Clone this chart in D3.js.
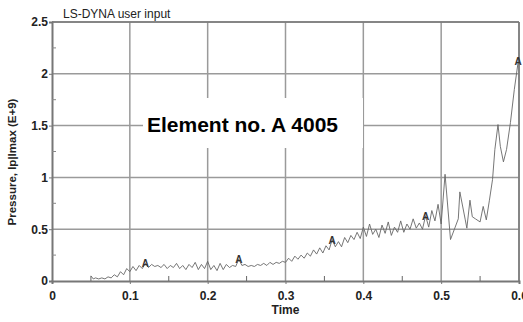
<!DOCTYPE html>
<html>
<head>
<meta charset="utf-8">
<script src="https://cdn.jsdelivr.net/npm/d3@7"></script>
<style>
  body { margin: 0; background: #fff; }
  text { font-family: "Liberation Sans", Arial, sans-serif; }
</style>
</head>
<body>
<svg width="523" height="322"></svg>
<script>
// data
var times = [0.050,0.053,0.056,0.060,0.064,0.068,0.072,0.076,0.080,0.084,0.088,0.092,0.096,0.100,
  0.104,0.108,0.112,0.116,0.120,0.124,0.128,0.132,0.136,0.140,0.144,0.148,0.152,0.156,0.160,0.164,
  0.168,0.172,0.176,0.180,0.184,0.188,0.192,0.196,0.200,0.204,0.208,0.212,0.216,0.220,0.224,0.228,
  0.232,0.236,0.240,0.244,0.248,0.252,0.256,0.260,0.264,0.268,0.272,0.276,0.280,0.284,0.288,0.292,
  0.296,0.300,0.304,0.308,0.312,0.316,0.320,0.324,0.328,0.332,0.336,0.340,0.344,0.348,0.352,0.356,
  0.360,0.364,0.368,0.372,0.376,0.380,0.384,0.388,0.392,0.396,0.400,0.404,0.408,0.412,0.416,0.420,
  0.424,0.428,0.432,0.436,0.440,0.444,0.448,0.452,0.456,0.460,0.464,0.468,0.472,0.476,0.480,0.484,
  0.488,0.492,0.496,0.500,0.505,0.512,0.518,0.522,0.524,0.531,0.533,0.537,0.540,0.544,0.550,0.554,
  0.558,0.562,0.566,0.569,0.573,0.576,0.580,0.584,0.589,0.594,0.599];
var pressure = [0.05,0.02,0.03,0.02,0.03,0.02,0.04,0.03,0.06,0.04,0.09,0.06,0.12,0.09,
  0.14,0.10,0.15,0.12,0.17,0.13,0.16,0.14,0.15,0.13,0.16,0.12,0.15,0.13,0.17,0.12,
  0.15,0.11,0.16,0.13,0.18,0.11,0.16,0.12,0.19,0.11,0.15,0.10,0.17,0.11,0.16,0.13,
  0.15,0.14,0.21,0.15,0.16,0.14,0.15,0.14,0.16,0.15,0.17,0.15,0.18,0.16,0.18,0.17,
  0.19,0.18,0.22,0.19,0.24,0.21,0.25,0.22,0.27,0.24,0.30,0.26,0.32,0.27,0.34,0.30,
  0.40,0.33,0.38,0.33,0.42,0.37,0.44,0.40,0.47,0.41,0.52,0.43,0.55,0.45,0.50,0.42,
  0.54,0.46,0.57,0.44,0.52,0.47,0.58,0.47,0.55,0.50,0.60,0.51,0.56,0.50,0.63,0.52,
  0.68,0.58,0.74,0.55,1.03,0.40,0.52,0.60,0.86,0.59,0.51,0.78,0.62,0.60,0.57,0.72,
  0.59,0.78,0.98,1.27,1.51,1.30,1.15,1.27,1.53,1.85,2.12];
var markerTimes = [0.12, 0.24, 0.36, 0.48, 0.599];
var xTicks = [0, 0.1, 0.2, 0.3, 0.4, 0.5, 0.6];
var yTicks = [0, 0.5, 1, 1.5, 2, 2.5];

var svg = d3.select("svg");
var mLeft = 52, mRight = 519, mTop = 22, mBottom = 281;

var x = d3.scaleLinear().domain([0, 0.6]).range([mLeft, mRight]);
var y = d3.scaleLinear().domain([0, 2.5]).range([mBottom, mTop]);

var narrow = "'Liberation Sans Narrow', 'Liberation Sans', Arial, sans-serif";

//gridlines
svg.append("g").selectAll("line").data(xTicks.slice(1)).enter().append("line")
  .attr("x1", function(d) { return x(d); }).attr("x2", function(d) { return x(d); })
  .attr("y1", mTop).attr("y2", mBottom)
  .attr("stroke", "#9a9a9a").attr("stroke-width", 1.5);
svg.append("g").selectAll("line").data(yTicks.slice(1)).enter().append("line")
  .attr("x1", mLeft).attr("x2", mRight)
  .attr("y1", function(d) { return y(d); }).attr("y2", function(d) { return y(d); })
  .attr("stroke", "#9a9a9a").attr("stroke-width", 1.5);

//axes
var xAxis = d3.axisBottom(x).tickValues(xTicks).tickSize(3).tickFormat(function(d) { return d; });
var yAxis = d3.axisLeft(y).tickValues(yTicks).tickSize(3).tickFormat(function(d) { return d; });
var gx = svg.append("g").attr("transform", "translate(0," + mBottom + ")").call(xAxis);
var gy = svg.append("g").attr("transform", "translate(" + mLeft + ",0)").call(yAxis);
[gx, gy].forEach(function(g) {
  g.select(".domain").attr("stroke", "#777").attr("stroke-width", 2);
  g.selectAll(".tick line").attr("stroke", "#777");
  g.selectAll("text").attr("fill", "#222").attr("font-size", 12).attr("font-weight", "bold")
    .attr("font-family", narrow);
});
gy.selectAll("text").attr("x", -4);
gx.selectAll("text").attr("dy", "1.05em");

//minor ticks
svg.append("g").selectAll("line").data(d3.range(0.05, 0.6, 0.1)).enter().append("line")
  .attr("x1", function(d) { return x(d); }).attr("x2", function(d) { return x(d); })
  .attr("y1", mBottom).attr("y2", mBottom - 5).attr("stroke", "#666");
svg.append("g").selectAll("line").data(d3.range(0.25, 2.5, 0.5)).enter().append("line")
  .attr("x1", mLeft).attr("x2", mLeft + 4)
  .attr("y1", function(d) { return y(d); }).attr("y2", function(d) { return y(d); })
  .attr("stroke", "#888");

//frame top and right
svg.append("line").attr("x1", mLeft).attr("x2", mRight).attr("y1", mTop).attr("y2", mTop)
  .attr("stroke", "#777").attr("stroke-width", 1.5);
svg.append("line").attr("x1", mRight).attr("x2", mRight).attr("y1", mTop).attr("y2", mBottom)
  .attr("stroke", "#777").attr("stroke-width", 1.5);

//curve
var pts = times.map(function(t, i) { return [t, pressure[i]]; });
svg.append("path").datum(pts)
  .attr("fill", "none").attr("stroke", "#666").attr("stroke-width", 0.9)
  .attr("d", d3.line().x(function(d) { return x(d[0]); }).y(function(d) { return y(d[1]); }));

//A markers
function interp(t) {
  var i = d3.bisectLeft(times, t);
  if (i <= 0) return pressure[0];
  if (i >= times.length) return pressure[times.length - 1];
  var f = (t - times[i - 1]) / (times[i] - times[i - 1]);
  return pressure[i - 1] + f * (pressure[i] - pressure[i - 1]);
}
svg.append("g").selectAll("text").data(markerTimes).enter().append("text")
  .attr("x", function(d) { return x(d); })
  .attr("y", function(d) { return y(interp(d)) + 4; })
  .attr("text-anchor", "middle").attr("font-size", 10).attr("font-weight", "bold")
  .attr("font-family", narrow).attr("fill", "#333")
  .text("A");

//annotation box
svg.append("rect").attr("x", 143).attr("y", 98).attr("width", 220).attr("height", 50).attr("fill", "#fff");
svg.append("text").attr("x", 147).attr("y", 132)
  .attr("font-size", 21).attr("font-weight", "bold").attr("fill", "#000")
  .text("Element no. A 4005");

//titles
svg.append("text").attr("x", 63).attr("y", 18)
  .attr("font-size", 12).attr("fill", "#222").attr("font-family", narrow)
  .text("LS-DYNA user input");
svg.append("text").attr("x", x(0.3)).attr("y", 314).attr("text-anchor", "middle")
  .attr("font-size", 12).attr("font-weight", "bold").attr("fill", "#222").attr("font-family", narrow)
  .text("Time");
svg.append("text").attr("transform", "translate(16,162) rotate(-90)").attr("text-anchor", "middle")
  .attr("font-size", 11.5).attr("font-weight", "bold").attr("fill", "#222")
  .text("Pressure, lp|lmax (E+9)");
</script>
</body>
</html>
